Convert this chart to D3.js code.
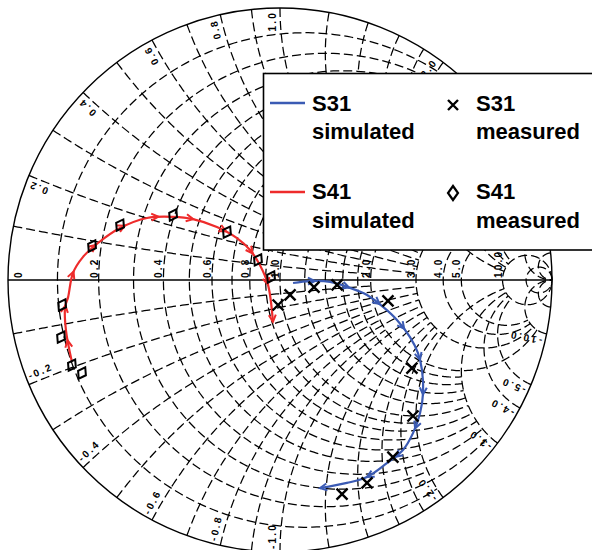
<!DOCTYPE html>
<html>
<head>
<meta charset="utf-8">
<script src="https://cdn.jsdelivr.net/npm/d3@7"></script>
<style>
  body { margin: 0; background: #fff; }
  svg { display: block; }
  .grid { fill: none; stroke: #000; stroke-width: 1.25; stroke-dasharray: 9 4; }
  .frame { fill: none; stroke: #000; stroke-width: 1.4; }
  .tick { font-family: "Liberation Sans", Arial, sans-serif; font-size: 10px; font-weight: bold; letter-spacing: 2.2px; fill: #000; }
  .leg { font-family: "Liberation Sans", Arial, sans-serif; font-size: 22px; font-weight: bold; fill: #000; }
</style>
</head>
<body>
<svg id="chart" width="592" height="550"></svg>
<script>
// ---- Smith chart grid values ----
const resistanceTicks = [0, 0.2, 0.4, 0.6, 0.8, 1.0, 2.0, 3.0, 4.0, 5.0, 10.0];
const reactanceTicks = [0.2, 0.4, 0.6, 0.8, 1.0, 2.0, 3.0, 4.0, 5.0, 10.0];
// grid families: values, and how far each line is carried across the other family
const gridMinor = [0.1, 0.3, 0.5, 0.7, 0.9];
const gridMajor = [0.2, 0.4, 0.6, 0.8, 1.0];
const gridMid = [1.2, 1.4, 1.6, 1.8];
const gridHigh = [2, 3, 4, 5];
const gridTop = [10, 20];
const gridReach = { minor: 2, major: 3, mid: 3, high: 10, top: Infinity };

// ---- reflection coefficients (real / imaginary) ----
// S41 simulated sweep
const s41SimRe = [-0.765, -0.787, -0.790, -0.779, -0.761, -0.724, -0.669, -0.588, -0.489, -0.393, -0.320, -0.232, -0.158, -0.110, -0.074, -0.044, -0.026];
const s41SimIm = [-0.301, -0.184, -0.099, -0.063, 0.026, 0.085, 0.136, 0.191, 0.228, 0.232, 0.224, 0.195, 0.154, 0.110, 0.055, -0.018, -0.154];
// S41 measured
const s41MeasRe = [-0.728, -0.765, -0.805, -0.801, -0.691, -0.588, -0.393, -0.195, -0.081, -0.033];
const s41MeasIm = [-0.342, -0.313, -0.210, -0.092, 0.125, 0.202, 0.239, 0.176, 0.074, 0.011];
// S31 simulated sweep
const s31SimRe = [0.048, 0.110, 0.184, 0.257, 0.320, 0.379, 0.430, 0.478, 0.507, 0.522, 0.526, 0.515, 0.489, 0.452, 0.393, 0.320, 0.246, 0.147];
const s31SimIm = [-0.011, -0.004, -0.007, -0.029, -0.055, -0.099, -0.147, -0.210, -0.268, -0.331, -0.415, -0.489, -0.563, -0.625, -0.673, -0.724, -0.746, -0.765];
// S31 measured
const s31MeasRe = [-0.007, 0.037, 0.125, 0.210, 0.397, 0.485, 0.489, 0.415, 0.320, 0.228];
const s31MeasIm = [-0.092, -0.055, -0.026, -0.018, -0.077, -0.324, -0.500, -0.651, -0.746, -0.787];

const blue = "#3b5bb4", red = "#ee2b2b";

const svg = d3.select("#chart");
const cx = 280, cy = 280, R = 272;
const sx = d3.scaleLinear().domain([-1, 1]).range([cx - R, cx + R]);
const sy = d3.scaleLinear().domain([-1, 1]).range([cy + R, cy - R]);
const line = d3.line().x(d => sx(d[0])).y(d => sy(d[1]));

// normalised impedance -> reflection coefficient
function gamma(r, x) {
  if (!isFinite(r)) return [1, 0];
  const a = r - 1, c = r + 1, den = c * c + x * x;
  return [(a * c + x * x) / den, (x * c - a * x) / den];
}

// constant-resistance circle, drawn for |x| <= reach
function rCircle(r, reach) {
  const c = r / (1 + r), rad = 1 / (1 + r);
  let t0 = 0;
  if (isFinite(reach)) { const g = gamma(r, reach); t0 = Math.atan2(g[1], g[0] - c); }
  return d3.range(0, 241).map(i => {
    const t = t0 + (2 * Math.PI - 2 * t0) * i / 240;
    return [c + rad * Math.cos(t), rad * Math.sin(t)];
  });
}
// constant-reactance arc, drawn for r <= reach
function xArc(x, reach) {
  const ccy = 1 / x, rad = Math.abs(1 / x);
  const g0 = gamma(0, x), g1 = gamma(reach, x);
  const a0 = Math.atan2(g0[1] - ccy, g0[0] - 1);
  let d = Math.atan2(g1[1] - ccy, g1[0] - 1) - a0;
  while (d > Math.PI) d -= 2 * Math.PI;
  while (d < -Math.PI) d += 2 * Math.PI;
  return d3.range(0, 161).map(i => {
    const t = a0 + d * i / 160;
    return [1 + rad * Math.cos(t), ccy + rad * Math.sin(t)];
  });
}

const gGrid = svg.append("g");
[[gridMinor, gridReach.minor], [gridMajor, gridReach.major], [gridMid, gridReach.mid],
 [gridHigh, gridReach.high], [gridTop, gridReach.top]].forEach(([vals, reach]) => {
  vals.forEach(v => {
    gGrid.append("path").attr("class", "grid").attr("d", line(rCircle(v, reach)));
    gGrid.append("path").attr("class", "grid").attr("d", line(xArc(v, reach)));
    gGrid.append("path").attr("class", "grid").attr("d", line(xArc(-v, reach)));
  });
});

// outer circle and real axis
svg.append("circle").attr("class", "frame").attr("cx", sx(0)).attr("cy", sy(0)).attr("r", sx(1) - sx(0));
svg.append("line").attr("class", "frame").attr("x1", sx(-1)).attr("x2", sx(1)).attr("y1", sy(0)).attr("y2", sy(0)).style("stroke-width", 1.6);

const fmt = v => v === 0 ? "0" : v.toFixed(1);

// resistance labels along the real axis
resistanceTicks.forEach(v => {
  let px = sx(gamma(v, 0)[0]) - 1;
  if (v === 0) px += 15;
  svg.append("text").attr("class", "tick")
    .attr("transform", `translate(${px},${sy(0) - 2}) rotate(-90)`)
    .text(fmt(v));
});

// reactance labels round the rim
reactanceTicks.forEach(v => {
  [v, -v].forEach(x => {
    const g = gamma(0, x);
    const th = Math.atan2(g[1], g[0]);
    const P = [sx(g[0]), sy(g[1])];
    const u = [Math.cos(th), -Math.sin(th)];                 // outward, screen
    const t = x > 0 ? [-Math.sin(th), -Math.cos(th)] : [Math.sin(th), Math.cos(th)]; // toward x = 0
    const outward = u[1] < 0;
    const dir = outward ? u : [-u[0], -u[1]];
    const ang = Math.atan2(dir[1], dir[0]) * 180 / Math.PI;
    const ax = P[0] - 3 * u[0] + 8 * t[0], ay = P[1] - 3 * u[1] + 8 * t[1];
    svg.append("text").attr("class", "tick")
      .attr("text-anchor", outward ? "end" : "start")
      .attr("dominant-baseline", "central")
      .attr("transform", `translate(${ax},${ay}) rotate(${ang})`)
      .text((x < 0 ? "-" : "") + fmt(v));
  });
});

// simulated sweeps with direction arrows
function sweep(re, im, color) {
  const pts = re.map((r, i) => [r, im[i]]);
  const p = svg.append("path").attr("d", d3.line().x(d => sx(d[0])).y(d => sy(d[1])).curve(d3.curveCatmullRom.alpha(0.5))(pts))
    .attr("fill", "none").attr("stroke", color).attr("stroke-width", 2.2);
  const node = p.node(), len = node.getTotalLength();
  const marks = d3.range(22, len - 15, 35).concat([len]);
  marks.forEach(L => {
    const a = node.getPointAtLength(L), b = node.getPointAtLength(Math.max(0, L - 3));
    const ang = Math.atan2(a.y - b.y, a.x - b.x) * 180 / Math.PI;
    svg.append("path").attr("d", "M-7,-3.5L0,0L-7,3.5")
      .attr("transform", `translate(${a.x},${a.y}) rotate(${ang})`)
      .attr("fill", "none").attr("stroke", color).attr("stroke-width", 2).attr("stroke-linejoin", "miter");
  });
}
sweep(s41SimRe, s41SimIm, red);
sweep(s31SimRe, s31SimIm, blue);

// measured markers
const crossPath = s => `M${-s},${-s}L${s},${s}M${-s},${s}L${s},${-s}`;
const diamondPath = (w, h) => `M0,${-h}L${w},0L0,${h}L${-w},0Z`;
s31MeasRe.forEach((r, i) => {
  svg.append("path").attr("d", crossPath(5.5)).attr("transform", `translate(${sx(r)},${sy(s31MeasIm[i])})`)
    .attr("stroke", "#000").attr("stroke-width", 2.4).attr("fill", "none");
});
s41MeasRe.forEach((r, i) => {
  svg.append("path").attr("d", diamondPath(4.5, 6.5)).attr("transform", `translate(${sx(r)},${sy(s41MeasIm[i])}) rotate(30)`)
    .attr("stroke", "#000").attr("stroke-width", 2).attr("fill", "none");
});

// legend
const lg = svg.append("g");
lg.append("rect").attr("x", 263.5).attr("y", 73.5).attr("width", 340).attr("height", 176.5)
  .attr("fill", "#fff").attr("stroke", "#000").attr("stroke-width", 1.6);
lg.append("line").attr("x1", 270).attr("x2", 305).attr("y1", 103).attr("y2", 103).attr("stroke", blue).attr("stroke-width", 2.4);
lg.append("line").attr("x1", 270).attr("x2", 305).attr("y1", 192).attr("y2", 192).attr("stroke", red).attr("stroke-width", 2.4);
lg.append("path").attr("d", crossPath(5)).attr("transform", "translate(453,105)").attr("stroke", "#000").attr("stroke-width", 2.4);
lg.append("path").attr("d", diamondPath(5, 7)).attr("transform", "translate(453,193)").attr("stroke", "#000").attr("stroke-width", 2.2).attr("fill", "none");
[["S31", 312, 110.5], ["simulated", 312, 138.5], ["S31", 476, 110.5], ["measured", 476, 138.5],
 ["S41", 312, 198.5], ["simulated", 312, 228], ["S41", 476, 198.5], ["measured", 476, 228]]
  .forEach(([t, x, y]) => lg.append("text").attr("class", "leg").attr("x", x).attr("y", y).text(t));
</script>
</body>
</html>
